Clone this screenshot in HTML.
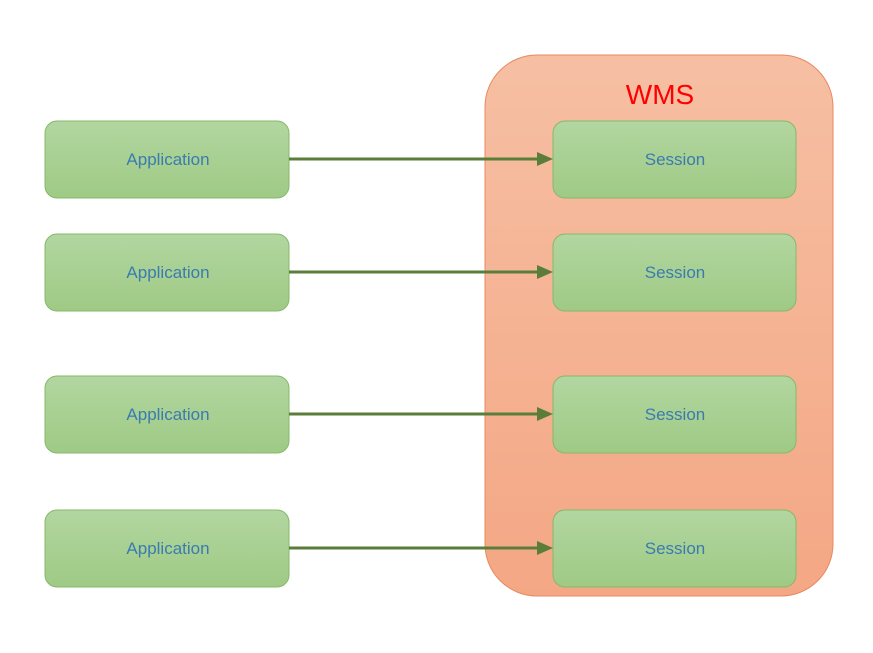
<!DOCTYPE html>
<html><head><style>body{margin:0;background:#fff}</style></head><body>
<svg width="873" height="653" xmlns="http://www.w3.org/2000/svg" style="display:block">
<defs>
<linearGradient id="o" x1="0" y1="0" x2="0" y2="1"><stop offset="0" stop-color="#f6bfa3"/><stop offset="1" stop-color="#f4a784"/></linearGradient>
<linearGradient id="g" x1="0" y1="0" x2="0" y2="1"><stop offset="0" stop-color="#b2d6a0"/><stop offset="1" stop-color="#9fca85"/></linearGradient>
</defs>
<rect x="485" y="55" width="348" height="541" rx="52" fill="url(#o)" stroke="#e8895e"/>
<text x="660" y="104" font-family="Liberation Sans, sans-serif" font-size="28" fill="#f00" text-anchor="middle">WMS</text>
<g font-family="Liberation Sans, sans-serif" font-size="17" fill="#3a7bb0" text-anchor="middle">
<g id="r">
</g>
<rect x="45" y="121" width="244" height="77" rx="12" fill="url(#g)" stroke="#86b86a"/><text x="168" y="165">Application</text>
<rect x="553" y="121" width="243" height="77" rx="12" fill="url(#g)" stroke="#86b86a"/><text x="675" y="165">Session</text>
<rect x="45" y="234" width="244" height="77" rx="12" fill="url(#g)" stroke="#86b86a"/><text x="168" y="278">Application</text>
<rect x="553" y="234" width="243" height="77" rx="12" fill="url(#g)" stroke="#86b86a"/><text x="675" y="278">Session</text>
<rect x="45" y="376" width="244" height="77" rx="12" fill="url(#g)" stroke="#86b86a"/><text x="168" y="420">Application</text>
<rect x="553" y="376" width="243" height="77" rx="12" fill="url(#g)" stroke="#86b86a"/><text x="675" y="420">Session</text>
<rect x="45" y="510" width="244" height="77" rx="12" fill="url(#g)" stroke="#86b86a"/><text x="168" y="554">Application</text>
<rect x="553" y="510" width="243" height="77" rx="12" fill="url(#g)" stroke="#86b86a"/><text x="675" y="554">Session</text>
</g>
<g stroke="#5a7e3a" stroke-width="3" fill="#5a7e3a">
<line x1="289" y1="159" x2="538" y2="159"/><polygon stroke="none" points="537,152 553,159 537,166"/>
<line x1="289" y1="272" x2="538" y2="272"/><polygon stroke="none" points="537,265 553,272 537,279"/>
<line x1="289" y1="414" x2="538" y2="414"/><polygon stroke="none" points="537,407 553,414 537,421"/>
<line x1="289" y1="548" x2="538" y2="548"/><polygon stroke="none" points="537,541 553,548 537,555"/>
</g>
</svg>
</body></html>
